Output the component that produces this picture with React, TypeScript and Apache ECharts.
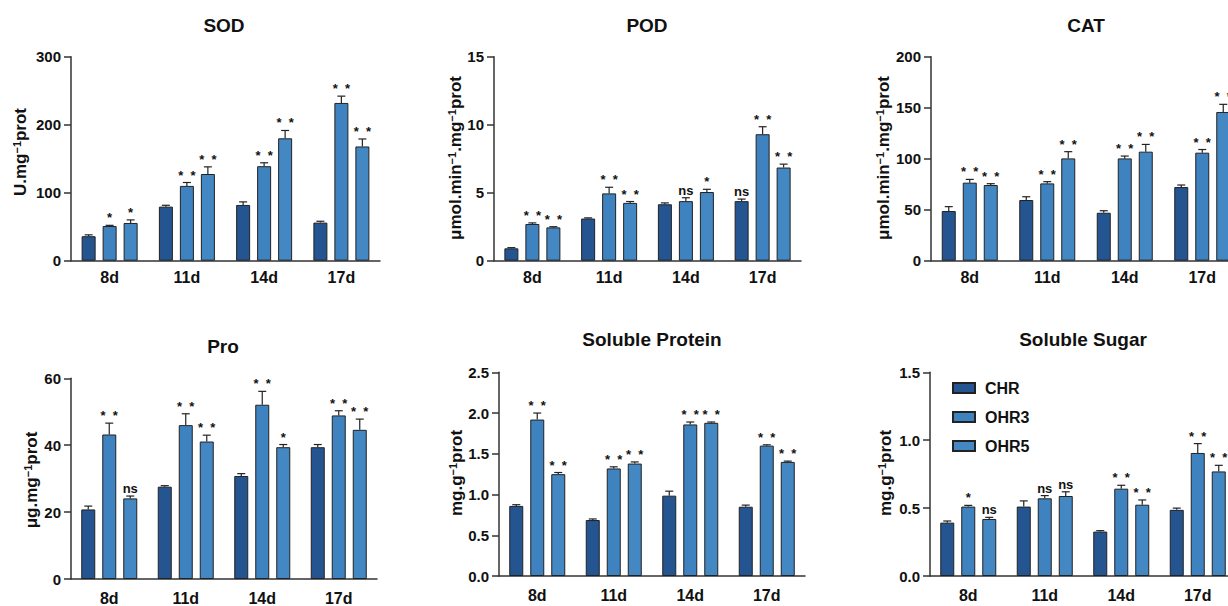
import React, { useEffect, useRef } from "react";
import * as echarts from "echarts";

const FONT = '"Liberation Sans", Arial, Helvetica, sans-serif';

const categories = ["8d", "11d", "14d", "17d"];
const groups = ["CHR", "OHR3", "OHR5"];
const colors = ["#245590", "#3e82bf", "#4387c3"];

// rows: CHR, OHR3, OHR5
const sodMean = [[36, 79.5, 82, 56], [51, 110, 139, 232], [55.5, 127.5, 180, 168]];
const sodErr = [[2, 2, 4.5, 2], [1, 5, 5, 10], [4.5, 10.5, 11.5, 11]];
const sodSig = [["", "", "", ""], ["*", "* *", "* *", "* *"], ["*", "* *", "* *", "* *"]];

const podMean = [[0.91, 3.1, 4.15, 4.38], [2.7, 4.95, 4.38, 9.3], [2.45, 4.25, 5.05, 6.85]];
const podErr = [[0.05, 0.05, 0.1, 0.15], [0.08, 0.45, 0.25, 0.55], [0.05, 0.1, 0.2, 0.25]];
const podSig = [["", "", "", "ns"], ["* *", "* *", "ns", "* *"], ["* *", "* *", "*", "* *"]];

const catMean = [[48.7, 59.5, 47, 72.2], [76.5, 75.8, 100.3, 105.9], [74.2, 100.3, 106.9, 145.8]];
const catErr = [[4.3, 3.2, 2, 2], [3.2, 1.7, 2.3, 3.1], [1.3, 6.6, 7.1, 7.5]];
const catSig = [["", "", "", ""], ["* *", "* *", "* *", "* *"], ["* *", "* *", "* *", "* *"]];

const proMean = [[20.8, 27.6, 30.8, 39.4], [43.2, 46, 52.1, 48.9], [24.1, 41.1, 39.4, 44.6]];
const proErr = [[1, 0.3, 0.7, 0.8], [3.4, 3.4, 4, 1.4], [0.7, 1.9, 0.8, 3.2]];
const proSig = [["", "", "", ""], ["* *", "* *", "* *", "* *"], ["ns", "* *", "*", "* *"]];

const spMean = [[0.86, 0.687, 0.986, 0.85], [1.92, 1.32, 1.86, 1.6], [1.25, 1.38, 1.88, 1.4]];
const spErr = [[0.015, 0.013, 0.055, 0.02], [0.08, 0.02, 0.03, 0.01], [0.02, 0.02, 0.01, 0.01]];
const spSig = [["", "", "", ""], ["* *", "* *", "* *", "* *"], ["* *", "* *", "* *", "* *"]];

const ssMean = [[0.393, 0.511, 0.327, 0.487], [0.511, 0.572, 0.643, 0.906], [0.42, 0.589, 0.525, 0.77]];
const ssErr = [[0.012, 0.042, 0.007, 0.013], [0.009, 0.02, 0.025, 0.069], [0.012, 0.031, 0.035, 0.045]];
const ssSig = [["", "", "", ""], ["*", "ns", "* *", "* *"], ["ns", "ns", "* *", "* *"]];

const titles = ["SOD", "POD", "CAT", "Pro", "Soluble Protein", "Soluble Sugar"];
const yNames = [
  "{a|U.mg}{s|−1}{a|prot}",
  "{a|μmol.min}{s|−1}{a|.mg}{s|−1}{a|prot}",
  "{a|μmol.min}{s|−1}{a|.mg}{s|−1}{a|prot}",
  "{a|μg.mg}{s|−1}{a|prot}",
  "{a|mg.g}{s|−1}{a|prot}",
  "{a|mg.g}{s|−1}{a|prot}",
];
const yMax = [300, 15, 200, 60, 2.5, 1.5];
const yInterval = [100, 5, 50, 20, 0.5, 0.5];
const yDecimals = [0, 0, 0, 0, 1, 1];

const panels = [
  { mean: sodMean, err: sodErr, sig: sodSig, grid: { left: 71, top: 56.7, width: 309, height: 204 }, titlePos: [224, 25], namePos: [20, 152] },
  { mean: podMean, err: podErr, sig: podSig, grid: { left: 494, top: 56.7, width: 307, height: 204 }, titlePos: [647, 25], namePos: [455, 158] },
  { mean: catMean, err: catErr, sig: catSig, grid: { left: 931, top: 56.7, width: 310, height: 204 }, titlePos: [1086, 25], namePos: [883, 158] },
  { mean: proMean, err: proErr, sig: proSig, grid: { left: 71, top: 378.3, width: 306, height: 204.4 }, titlePos: [223, 346], namePos: [31, 480] },
  { mean: spMean, err: spErr, sig: spSig, grid: { left: 499, top: 372.3, width: 306, height: 203.7 }, titlePos: [652, 339], namePos: [456, 473] },
  { mean: ssMean, err: ssErr, sig: ssSig, grid: { left: 930, top: 372.3, width: 306, height: 203.7 }, titlePos: [1083, 339], namePos: [885, 473] },
];

function buildOption() {
  const grid: any[] = [];
  const xAxis: any[] = [];
  const yAxis: any[] = [];
  const series: any[] = [];
  const graphic: any[] = [];
  const axisColor = "#333";

  panels.forEach((p, i) => {
    grid.push({ ...p.grid, containLabel: false });
    xAxis.push({
      type: "category",
      gridIndex: i,
      data: categories,
      axisLine: { lineStyle: { color: axisColor, width: 1.5 } },
      axisTick: { alignWithLabel: true, length: 6, lineStyle: { color: axisColor, width: 1.5 } },
      axisLabel: { fontSize: 16, fontWeight: "bold", color: "#111", margin: i >= 3 ? 11 : 9, fontFamily: FONT },
    });
    yAxis.push({
      type: "value",
      gridIndex: i,
      min: 0,
      max: yMax[i],
      interval: yInterval[i],
      splitLine: { show: false },
      axisLine: { show: true, lineStyle: { color: axisColor, width: 1.5 } },
      axisTick: { show: true, length: 7, lineStyle: { color: axisColor, width: 1.5 } },
      axisLabel: {
        fontSize: 15,
        fontWeight: "bold",
        color: "#111",
        margin: 10,
        fontFamily: FONT,
        formatter: (v: number) => v.toFixed(yDecimals[i]),
      },
    });
    groups.forEach((g, gi) => {
      series.push({
        type: "bar",
        name: g,
        xAxisIndex: i,
        yAxisIndex: i,
        data: p.mean[gi],
        barWidth: 14,
        barGap: "50%",
        itemStyle: { color: colors[gi], borderColor: "#222", borderWidth: 1 },
      });
      const sigRow = p.sig[gi];
      series.push({
        type: "custom",
        name: "err-" + g,
        xAxisIndex: i,
        yAxisIndex: i,
        z: 10,
        silent: true,
        data: p.mean[gi].map((m, k) => [k, m, p.err[gi][k]]),
        renderItem: (params: any, api: any) => {
          const k = api.value(0);
          const m = api.value(1);
          const e = api.value(2);
          const b = api.coord([k, m]);
          const t = api.coord([k, m + e]);
          const x = b[0] + (gi - 1) * 21;
          const children: any[] = [
            { type: "line", shape: { x1: x, y1: b[1], x2: x, y2: t[1] }, style: { stroke: "#222", lineWidth: 1.2 } },
            { type: "line", shape: { x1: x - 4, y1: t[1], x2: x + 4, y2: t[1] }, style: { stroke: "#222", lineWidth: 1.2 } },
          ];
          const s = sigRow[params.dataIndex];
          if (s) {
            const txt = s === "* *" ? "*\u00a0\u00a0*" : s;
            children.push({
              type: "text",
              x,
              y: t[1] - 1,
              style: {
                text: txt,
                textAlign: "center",
                textVerticalAlign: "bottom",
                align: "center",
                verticalAlign: "bottom",
                fontSize: 13,
                fontWeight: "bold",
                fontFamily: FONT,
                fill: "#111",
              },
            });
          }
          return { type: "group", children };
        },
      });
    });

    graphic.push({
      type: "text",
      x: p.titlePos[0],
      y: p.titlePos[1],
      style: {
        text: titles[i],
        textAlign: "center",
        textVerticalAlign: "middle",
        align: "center",
        verticalAlign: "middle",
        fontSize: 19,
        fontWeight: "bold",
        fontFamily: FONT,
        fill: "#111",
      },
    });
    graphic.push({
      type: "text",
      x: p.namePos[0],
      y: p.namePos[1],
      rotation: Math.PI / 2,
      style: {
        text: yNames[i],
        textAlign: "center",
        textVerticalAlign: "middle",
        align: "center",
        verticalAlign: "middle",
        fontFamily: FONT,
        fill: "#111",
        rich: {
          a: { fontSize: 17, fontWeight: "bold", fontFamily: FONT, fill: "#111", color: "#111" },
          s: { fontSize: 11, fontWeight: "bold", fontFamily: FONT, fill: "#111", color: "#111", verticalAlign: "top" },
        },
      },
    });
  });

  return {
    animation: false,
    backgroundColor: "#ffffff",
    grid,
    xAxis,
    yAxis,
    series,
    graphic,
    legend: {
      data: groups,
      orient: "vertical",
      left: 947,
      top: 375,
      itemWidth: 22,
      itemHeight: 10,
      itemGap: 13,
      icon: "rect",
      textStyle: { fontSize: 16, fontWeight: "bold", color: "#111", fontFamily: FONT, padding: [0, 0, 0, 5] },
    },
  };
}

export default function App() {
  const ref = useRef<HTMLDivElement>(null);
  useEffect(() => {
    if (!ref.current) return;
    const chart = echarts.init(ref.current, undefined, { renderer: "svg" });
    chart.setOption(buildOption() as any);
    return () => chart.dispose();
  }, []);
  return (
    <div style={{ position: "fixed", left: 0, top: 0, width: 1228, height: 606, overflow: "hidden", background: "#fff" }}>
      <div ref={ref} style={{ width: 1260, height: 606 }} />
    </div>
  );
}
